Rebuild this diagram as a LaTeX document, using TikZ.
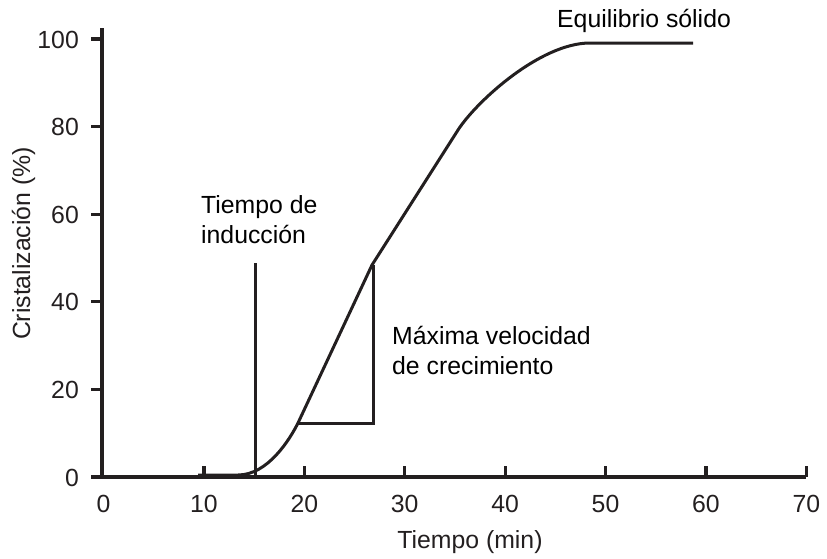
\documentclass[tikz,border=0pt]{standalone}
\usepackage{fontspec}
\setmainfont{Liberation Sans}
\definecolor{ink}{HTML}{231F20}
\begin{document}
\begin{tikzpicture}[x=1pt,y=-1pt,
  axisline/.style={draw=ink,line width=3.2pt},
  curveline/.style={draw=ink,line width=3pt,line join=round},
  thinline/.style={draw=ink,line width=3pt},
  ticklbl/.style={font=\fontsize{24.8}{30}\selectfont,text=ink,inner sep=0},
  lbl/.style={font=\fontsize{24.8}{29.5}\selectfont,text=black,inner sep=0,align=left}]
\useasboundingbox (0,0) rectangle (827,558);
% axes
\coordinate (O) at (102,477);
\coordinate (ytop) at (102,28);
\coordinate (xleft) at (91,477);
\coordinate (xright) at (806,477);
\draw[axisline] (ytop) -- (O);
\draw[axisline] (xleft) -- (xright);
% y ticks and labels
\node[ticklbl,anchor=base east] (yt0) at (79,486) {0};
\foreach \v in {20,40,60,80,100}{
  \coordinate (ya\v) at (91,{477-\v*4.38});
  \coordinate (yb\v) at (102,{477-\v*4.38});
  \draw[axisline] (ya\v) -- (yb\v);
  \node[ticklbl,anchor=base east] (yt\v) at (79,{477-\v*4.38+9}) {\v};
}
% x ticks and labels
\node[ticklbl,anchor=base] (xt0) at (103.5,512) {0};
\foreach \v in {10,20,...,70}{
  \coordinate (xa\v) at ({103.5+\v*10.04},466);
  \coordinate (xb\v) at ({103.5+\v*10.04},477);
  \draw[axisline] (xa\v) -- (xb\v);
  \node[ticklbl,anchor=base] (xt\v) at ({103.5+\v*10.04},512) {\v};
}
% axis titles
\node[ticklbl,anchor=base] (xtitle) at (470,548) {Tiempo (min)};
\node[ticklbl,anchor=base,rotate=90] (ytitle) at (30,243.5) {Cristalización (\%)};
% curve
\coordinate (c0) at (198,475);
\coordinate (c1) at (238,475);
\coordinate (c2) at (298,423);
\coordinate (c3) at (372,265);
\coordinate (c3b) at (458,130);
\coordinate (c4) at (590,43);
\coordinate (c5) at (693,43);
\draw[curveline] (c0) -- (c1) .. controls (268,475) and (290,439) .. (c2)
  -- (c3) -- (c3b) .. controls (476,102) and (540,43) .. (c4) -- (c5);
% growth triangle
\coordinate (t1) at (373,423);
\coordinate (t2) at (373,265);
\draw[thinline] (c2) -- (t1) -- (t2);
% induction line
\coordinate (i1) at (255,263);
\coordinate (i2) at (255,477);
\draw[thinline] (i1) -- (i2);
% labels
\node[lbl,anchor=base west] (ind) at (201,243) {Tiempo de\\inducción};
\node[lbl,anchor=base west] (vel) at (392,374) {Máxima velocidad\\de crecimiento};
\node[lbl,anchor=base west] (eq) at (557,27) {Equilibrio sólido};
\end{tikzpicture}
\end{document}
